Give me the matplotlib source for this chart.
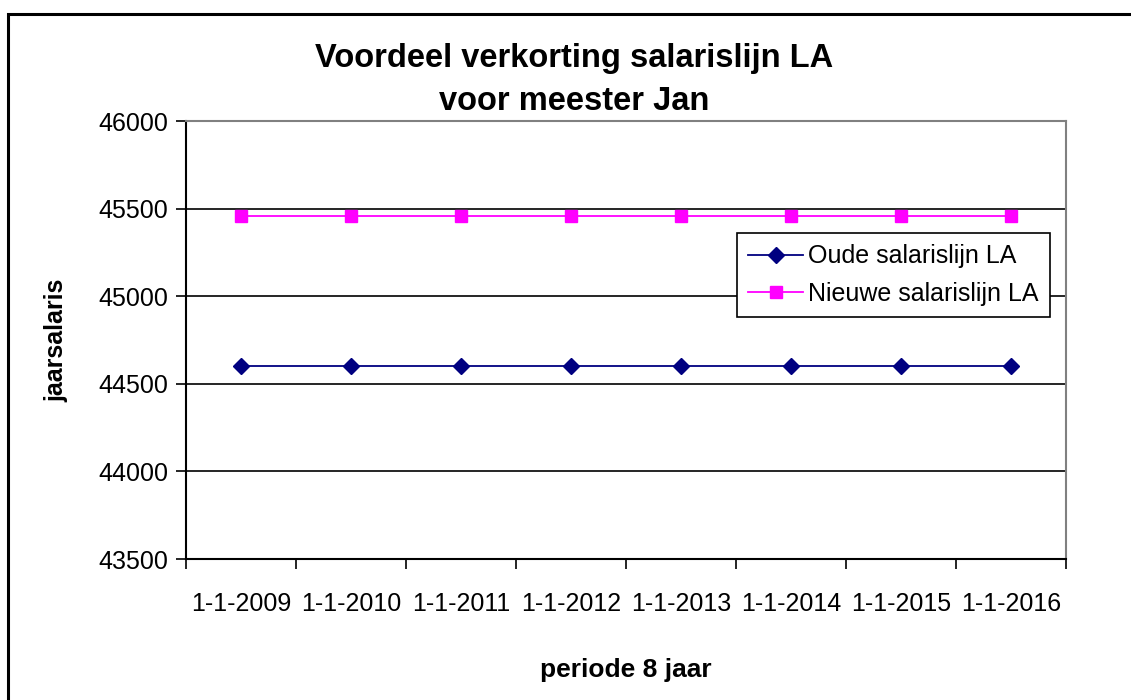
import matplotlib.pyplot as plt
from matplotlib.patches import Rectangle

plt.rcParams["font.family"] = ["Liberation Sans", "DejaVu Sans"]

dates = ["1-1-2009", "1-1-2010", "1-1-2011", "1-1-2012",
         "1-1-2013", "1-1-2014", "1-1-2015", "1-1-2016"]
oude = [44600, 44600, 44600, 44600, 44600, 44600, 44600, 44600]
nieuwe = [45460, 45460, 45460, 45460, 45460, 45460, 45460, 45460]

fig = plt.figure(figsize=(11.31, 7.0), dpi=100)

# outer frame, cut off at right and bottom like the original
fig.patches.append(Rectangle((8 / 1131, -0.05), 1.1, 1 - 14 / 700 + 0.05,
                             transform=fig.transFigure, fill=False,
                             edgecolor="black", linewidth=2.2, zorder=0))

ax = fig.add_axes([186 / 1131, 1 - 559 / 700, 880 / 1131, 438 / 700])

x = list(range(len(dates)))
ax.plot(x, oude, color="#000080", marker="D", markersize=8,
        linewidth=1.3, label="Oude salarislijn LA", zorder=3)
ax.plot(x, nieuwe, color="#FF00FF", marker="s", markersize=8,
        linewidth=1.3, label="Nieuwe salarislijn LA", zorder=3)

ax.set_xlim(-0.5, len(dates) - 0.5)
ax.set_ylim(43500, 46000)
ax.set_yticks(range(43500, 46001, 500))
ax.yaxis.grid(True, color="black", linewidth=1.2)
ax.set_axisbelow(True)

# Excel style: ticks between categories, labels centred under points
ax.set_xticks([i - 0.5 for i in range(len(dates) + 1)])
ax.set_xticklabels([])
ax.set_xticks(x, minor=True)
ax.set_xticklabels(dates, minor=True, fontsize=18)
ax.tick_params(axis="x", which="minor", length=0, pad=24)
ax.tick_params(axis="x", which="major", direction="out", length=7, width=1.2)
ax.tick_params(axis="y", direction="out", length=7, width=1.2, labelsize=18, pad=6)

for side in ["left", "bottom"]:
    ax.spines[side].set_color("black")
    ax.spines[side].set_linewidth(1.5)
for side in ["top", "right"]:
    ax.spines[side].set_color("#808080")
    ax.spines[side].set_linewidth(1.5)

ax.set_ylabel("jaarsalaris", fontsize=18, fontweight="bold", labelpad=21)
ax.set_xlabel("periode 8 jaar", fontsize=19, fontweight="bold", labelpad=30)

fig.text(0.508, 1 - 59 / 700, "Voordeel verkorting salarislijn LA",
         ha="center", va="center", fontsize=23.5, fontweight="bold")
fig.text(0.508, 1 - 102 / 700, "voor meester Jan",
         ha="center", va="center", fontsize=23.5, fontweight="bold")

leg = ax.legend(loc="upper left", bbox_to_anchor=(737 / 1131, 1 - 233 / 700),
                bbox_transform=fig.transFigure, fontsize=18, frameon=True,
                fancybox=False, edgecolor="black", framealpha=1,
                borderpad=0.45, handlelength=2.2, handletextpad=0.2,
                labelspacing=0.55, borderaxespad=0)
leg.get_frame().set_linewidth(1.2)

fig.savefig("out.png", dpi=100)
